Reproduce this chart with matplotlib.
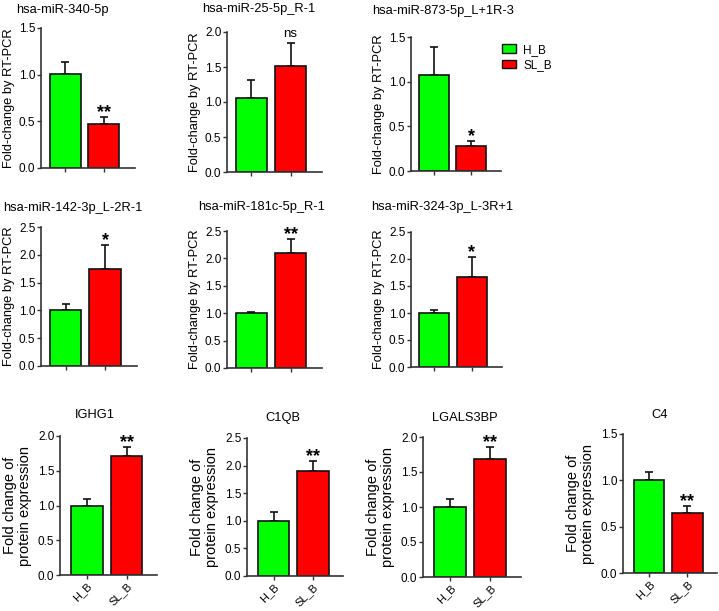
import numpy as np
import matplotlib
matplotlib.use("Agg")
import matplotlib.pyplot as plt
from matplotlib.patches import Patch

plt.rcParams['font.family'] = ['Liberation Sans', 'DejaVu Sans']

# -- data --
groups = ['H_B', 'SL_B']

mir_titles = ['hsa-miR-340-5p', 'hsa-miR-25-5p_R-1', 'hsa-miR-873-5p_L+1R-3',
              'hsa-miR-142-3p_L-2R-1', 'hsa-miR-181c-5p_R-1', 'hsa-miR-324-3p_L-3R+1']
mir_hb_mean = [1.01, 1.06, 1.07, 1.01, 1.00, 1.00]
mir_hb_err = [0.13, 0.26, 0.32, 0.10, 0.02, 0.05]
mir_slb_mean = [0.47, 1.52, 0.28, 1.75, 2.10, 1.67]
mir_slb_err = [0.08, 0.33, 0.06, 0.43, 0.25, 0.37]
mir_sig = ['**', 'ns', '*', '*', '**', '*']
mir_ymax = [1.5, 2.0, 1.5, 2.5, 2.5, 2.5]

prot_titles = ['IGHG1', 'C1QB', 'LGALS3BP', 'C4']
prot_hb_mean = [1.00, 1.00, 1.00, 1.00]
prot_hb_err = [0.10, 0.16, 0.12, 0.09]
prot_slb_mean = [1.71, 1.91, 1.69, 0.65]
prot_slb_err = [0.13, 0.17, 0.17, 0.07]
prot_sig = ['**', '**', '**', '**']
prot_ymax = [2.0, 2.5, 2.0, 1.5]

W, H = 719, 611
fig = plt.figure(figsize=(W / 100, H / 100), dpi=100)

green = '#00FF00'
red = '#FF0000'


def px_axes(left, top, right, bottom):
    return fig.add_axes([left / W, 1 - bottom / H, (right - left) / W, (bottom - top) / H])


def bar_panel(ax, means, errs, sig, ymax, xlim):
    x = np.arange(2)
    ax.bar(x, means, width=0.8, color=[green, red], edgecolor='#111111', linewidth=1.2, zorder=2)
    ax.errorbar(x, means, yerr=[[0, 0], errs], fmt='none', ecolor='#111111',
                elinewidth=1.2, capsize=3, capthick=1.2, zorder=1)
    ax.set_xlim(*xlim)
    ax.set_ylim(0, ymax)
    ax.set_yticks(np.arange(0, ymax + 0.01, 0.5))
    ax.yaxis.set_major_formatter(plt.FormatStrFormatter('%.1f'))
    ax.set_xticks(x)
    for s in ['top', 'right']:
        ax.spines[s].set_visible(False)
    for s in ['left', 'bottom']:
        ax.spines[s].set_linewidth(1.2)
        ax.spines[s].set_color('#333333')
    ax.tick_params(axis='both', length=3, width=1.0, color='#333333', labelsize=8.5, pad=1)
    top = means[1] + errs[1]
    if sig == 'ns':
        ax.annotate(sig, (1, top), xytext=(0, 2), textcoords='offset points',
                    ha='center', va='bottom', fontsize=9.5)
    else:
        ax.annotate(sig, (1, top), xytext=(0, -3), textcoords='offset points',
                    ha='center', va='bottom', fontsize=13, fontweight='bold')


# -- miRNA panels (rows 1 and 2) --
mir_boxes = [(41, 28, 135, 168), (227, 32, 322, 172), (411, 37, 501, 171),
             (41, 227, 137, 366), (227, 231, 322, 368), (411, 232, 502, 367)]
mir_title_pos = [(62, 10), (259, 9), (443, 11), (73, 208), (262, 207), (442, 207)]

for i in range(6):
    ax = px_axes(*mir_boxes[i])
    bar_panel(ax, [mir_hb_mean[i], mir_slb_mean[i]], [mir_hb_err[i], mir_slb_err[i]],
              mir_sig[i], mir_ymax[i], (-0.62, 1.8))
    ax.set_xticklabels([])
    ax.set_ylabel('Fold-change by RT-PCR', fontsize=9.3, labelpad=3)
    tx, ty = mir_title_pos[i]
    fig.text(tx / W, 1 - ty / H, mir_titles[i], ha='center', va='center', fontsize=9.3)

# legend
handles = [Patch(facecolor=green, edgecolor='#111111', linewidth=1.0),
           Patch(facecolor=red, edgecolor='#111111', linewidth=1.0)]
fig.legend(handles, groups, loc='upper left', bbox_to_anchor=(491 / W, 1 - 33 / H),
           frameon=False, fontsize=8.5, handlelength=1.25, handleheight=0.7,
           handletextpad=0.6, labelspacing=0.3)

# -- protein panels (row 3) --
prot_boxes = [(60, 436, 157, 575), (247, 438, 343, 576), (423, 437, 521, 577), (623, 434, 717, 573)]
prot_title_pos = [(95, 415), (283, 418), (465, 418), (660, 415)]

for i in range(4):
    ax = px_axes(*prot_boxes[i])
    bar_panel(ax, [prot_hb_mean[i], prot_slb_mean[i]], [prot_hb_err[i], prot_slb_err[i]],
              prot_sig[i], prot_ymax[i], (-0.68, 1.77))
    ax.set_xticklabels(groups, rotation=45, ha='right', rotation_mode='anchor', fontsize=8)
    ax.set_ylabel('Fold change of\nprotein expression', fontsize=10.5, labelpad=4, linespacing=1.1)
    tx, ty = prot_title_pos[i]
    fig.text(tx / W, 1 - ty / H, prot_titles[i], ha='center', va='center', fontsize=9.3)

fig.savefig('out.png', dpi=100)
